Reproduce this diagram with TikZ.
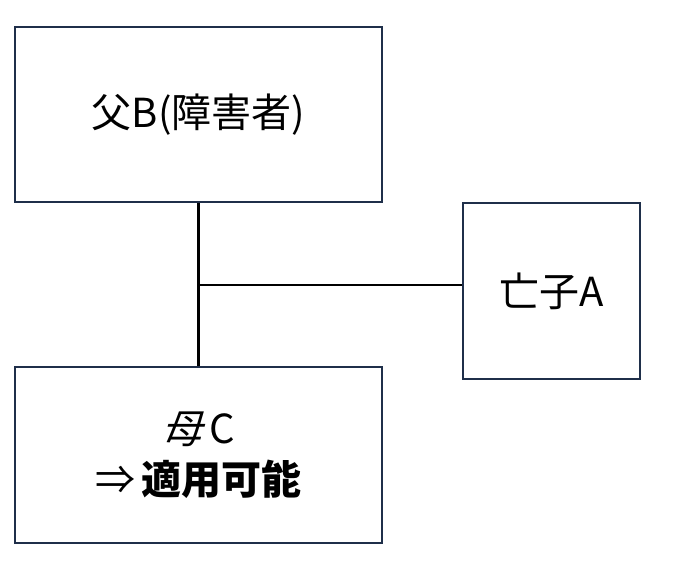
\documentclass[tikz,border=0pt]{standalone}
\usepackage{fontspec}
\setmainfont{Noto Sans CJK JP}
\newfontfamily\slantjp[FakeSlant=0.25]{Noto Sans CJK JP}
\usepackage{tikz}
\definecolor{boxline}{HTML}{1F2F4A}

\tikzset{
  person/.style={draw=boxline, line width=1.6pt, align=center, inner sep=0pt,
    font=\fontsize{40}{53}\selectfont},
  link/.style={line width=2.4pt}
}

\begin{document}
\begin{tikzpicture}[x=1pt, y=-1pt]
  \useasboundingbox (0,0) rectangle (680,582);
  \begin{scope}
    \node[person, minimum width=367pt, minimum height=175pt] (father) at (198.5,114.5) {父B(障害者)};
    \node[person, minimum width=177pt, minimum height=176pt] (child) at (551.5,291) {亡子A};
    \node[person, minimum width=367pt, minimum height=176pt] (mother) at (198.5,455) {{\slantjp 母}\,C\\[-2pt]⇒\,\textbf{適用可能}};

\coordinate (joint) at (199,285);
\draw[link] (father.south) -- (mother.north);
\draw[link] (joint) -- (joint -| child.west);

  \end{scope}
\end{tikzpicture}
\end{document}
